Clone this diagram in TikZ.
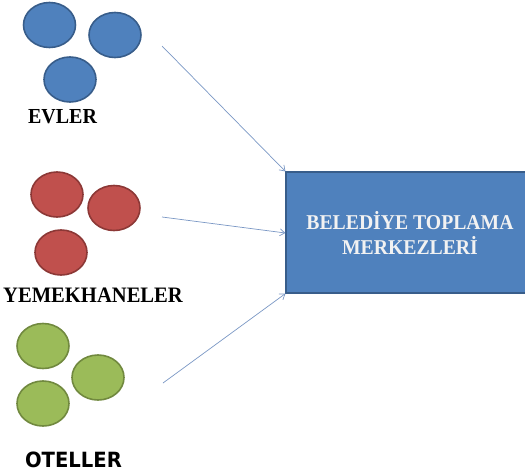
\documentclass[tikz,border=0pt]{standalone}
\usepackage{fontspec}
\setmainfont{Liberation Serif}
\newfontfamily\labsans{DejaVu Sans}
\usetikzlibrary{arrows.meta,shapes.geometric}
\definecolor{bluefill}{HTML}{4F81BD}
\definecolor{blueedge}{HTML}{385D8A}
\definecolor{redfill}{HTML}{C0504D}
\definecolor{rededge}{HTML}{8C3836}
\definecolor{greenfill}{HTML}{9BBB59}
\definecolor{greenedge}{HTML}{71893F}
\definecolor{arrowcol}{HTML}{7A97C4}
\definecolor{boxtext}{HTML}{F2F2F2}
\tikzset{
  ball/.style={ellipse, minimum width=52pt, minimum height=45pt, inner sep=0pt, line width=1.6pt},
  blueball/.style={ball, draw=blueedge, fill=bluefill},
  redball/.style={ball, draw=rededge, fill=redfill},
  greenball/.style={ball, draw=greenedge, fill=greenfill},
  grouplabel/.style={font=\fontsize{20pt}{24pt}\selectfont\bfseries, inner sep=0pt, yscale=1.07, transform shape},
  conn/.style={draw=arrowcol, line width=0.7pt, -{Straight Barb[length=5pt,width=7pt]}},
  centerbox/.style={draw=blueedge, fill=bluefill, line width=1.2pt, minimum width=248pt, minimum height=121pt, inner sep=0pt}
}
\begin{document}
\begin{tikzpicture}[x=1pt,y=-1pt]
\useasboundingbox (0,0) rectangle (525,474);
\clip (0,0) rectangle (525,474);
% blue group
\node[blueball] (b1) at (49.5,25) {};
\node[blueball] (b2) at (115,35) {};
\node[blueball] (b3) at (70,79.5) {};
\node[grouplabel] (evler) at (62.5,117) {EVLER};
% red group
\node[redball] (r1) at (57,194.5) {};
\node[redball] (r2) at (114,208) {};
\node[redball] (r3) at (61,252.5) {};
\node[grouplabel, font=\fontsize{20.6pt}{24pt}\selectfont\bfseries] (yemek) at (93,295) {YEMEKHANELER};
% green group
\node[greenball] (g1) at (43,346) {};
\node[greenball] (g2) at (98,377.5) {};
\node[greenball] (g3) at (43,403.5) {};
\node[grouplabel, font=\labsans\fontsize{19.6pt}{24pt}\selectfont\bfseries] (oteller) at (73.5,459.5) {OTELLER};
% center box
\node[centerbox] (box) at (410,232.5) {};
\node[text=boxtext, align=center, font=\fontsize{19.7pt}{23pt}\selectfont\bfseries, yscale=1.07, transform shape] (boxtxt) at (410,233) {BELED\.{I}YE TOPLAMA\\MERKEZLER\.{I}};
% connectors
\coordinate (s1) at (162,46);
\coordinate (s2) at (162,217);
\coordinate (s3) at (163,383);
\draw[conn] (s1) -- (box.north west);
\draw[conn] (s2) -- ([yshift=-0.5pt]box.west);
\draw[conn] (s3) -- (box.south west);
\end{tikzpicture}
\end{document}
